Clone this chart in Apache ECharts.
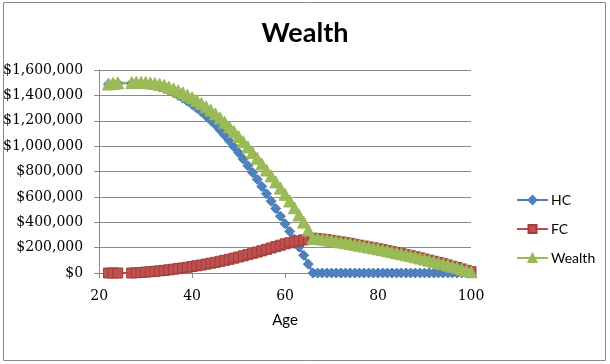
<!DOCTYPE html>
<html>
<head>
<meta charset="utf-8">
<script src="https://cdn.jsdelivr.net/npm/echarts@6/dist/echarts.min.js"></script>
<style>
html,body{margin:0;padding:0;background:#fff;}
#c{width:610px;height:364px;}
</style>
</head>
<body>
<div id="c"></div>
<script>
var titleText = 'Wealth';
var xName = 'Age';
var seriesNames = ['HC', 'FC', 'Wealth'];
var xTicks = [20, 40, 60, 80, 100];
var yTicks = [0, 200000, 400000, 600000, 800000, 1000000, 1200000, 1400000, 1600000];

var ages = [22,23,24,27,28,29,30,31,32,33,34,35,36,37,38,39,40,41,42,43,44,45,46,47,48,49,50,
  51,52,53,54,55,56,57,58,59,60,61,62,63,64,65,66,67,68,69,70,71,72,73,74,75,76,77,78,79,80,
  81,82,83,84,85,86,87,88,89,90,91,92,93,94,95,96,97,98,99,100];

// values in $ thousands
var hc = [1488,1492,1494,1496,1496,1494,1490,1484,1476,1466,1454,1438,1420,1400,1378,1354,1328,
  1300,1270,1238,1204,1168,1128,1086,1042,996,948,898,846,792,738,682,624,566,508,448,388,328,
  266,204,140,70,0,0,0,0,0,0,0,0,0,0,0,0,0,0,0,0,0,0,0,0,0,0,0,0,0,0,0,0,0,0,0,0,0,0,0];
var fc = [0,0,0,0,2,4,7,10,13,17,21,25,30,35,40,45,51,57,63,70,77,84,92,100,108,117,126,
  135,145,155,165,175,186,197,208,219,230,238,246,253,261,268,274,272,267,262,257,251,245,239,
  233,226,219,212,205,198,191,184,176,168,160,152,144,136,128,119,110,101,92,83,73,63,53,43,32,21,10];
var wealth = [1490,1495,1498,1500,1502,1502,1501,1498,1493,1487,1479,1465,1452,1437,1420,1401,1381,
  1359,1335,1310,1283,1254,1222,1188,1152,1115,1076,1035,993,949,905,859,812,765,718,669,620,568,
  514,458,401,338,274,272,267,262,257,251,245,239,233,226,219,212,205,198,191,184,176,168,160,152,
  144,136,128,119,110,101,92,83,73,63,53,43,32,21,10];

function pairs(vals){
  return ages.map(function(a,i){ return [a, vals[i]*1000]; });
}
function money(v){
  return '$' + Math.round(v).toString().replace(/\B(?=(\d{3})+(?!\d))/g, ',');
}

var chart = echarts.init(document.getElementById('c'), null, {renderer:'canvas'});
var serifFont = 'DejaVu Serif';
var sansFont = 'Lato';
chart.setOption({
  backgroundColor: '#ffffff',
  animation: false,
  graphic: [{
    type: 'rect', shape: {x: 3.5, y: 2.5, width: 602, height: 358},
    style: {fill: 'none', stroke: '#8a8a8a', lineWidth: 1}, silent: true, z: -1
  }],
  title: {
    text: titleText, left: 'center', top: 15,
    textStyle: {fontFamily: sansFont, fontSize: 27, fontWeight: 'bold', color: '#000'}
  },
  legend: {
    data: seriesNames, orient: 'vertical', left: 511, top: 188,
    itemWidth: 31, itemHeight: 10, itemGap: 15,
    textStyle: {fontFamily: sansFont, fontSize: 14, color: '#000', padding: [0,0,0,-2]}
  },
  grid: {left: 99, right: 139, top: 70, bottom: 91, containLabel: false},
  xAxis: {
    type: 'value', min: xTicks[0], max: xTicks[xTicks.length-1], interval: 20,
    name: xName, nameLocation: 'middle', nameGap: 40,
    nameTextStyle: {fontFamily: sansFont, fontSize: 15, color: '#000'},
    axisLine: {show: true, onZero: false, lineStyle: {color: '#8a8a8a', width: 1}},
    axisTick: {show: true, length: 5, lineStyle: {color: '#8a8a8a'}},
    axisLabel: {fontFamily: serifFont, fontSize: 14, color: '#000', margin: 16},
    splitLine: {show: false}
  },
  yAxis: {
    type: 'value', min: yTicks[0], max: yTicks[yTicks.length-1], interval: 200000,
    axisLine: {show: true, lineStyle: {color: '#8a8a8a', width: 1}},
    axisTick: {show: true, length: 5, lineStyle: {color: '#8a8a8a'}},
    axisLabel: {fontFamily: serifFont, fontSize: 14, color: '#000', margin: 16, formatter: money},
    splitLine: {show: true, lineStyle: {color: '#8a8a8a', width: 1}}
  },
  series: [
    {
      name: seriesNames[0], type: 'line', data: pairs(hc),
      symbol: 'diamond', symbolSize: 10, showAllSymbol: true,
      lineStyle: {color: '#4A7EBB', width: 2.25},
      itemStyle: {color: '#4F81BD', borderColor: '#4A7EBB', borderWidth: 1}
    },
    {
      name: seriesNames[1], type: 'line', data: pairs(fc),
      symbol: 'rect', symbolSize: 10, showAllSymbol: true,
      lineStyle: {color: '#BE4B48', width: 2.25},
      itemStyle: {color: '#C0504D', borderColor: '#A03E3B', borderWidth: 1}
    },
    {
      name: seriesNames[2], type: 'line', data: pairs(wealth),
      symbol: 'triangle', symbolSize: 12, showAllSymbol: true,
      lineStyle: {color: '#98B954', width: 2.25},
      itemStyle: {color: '#9BBB59', borderColor: '#98B954', borderWidth: 1}
    }
  ]
});
</script>
</body>
</html>
